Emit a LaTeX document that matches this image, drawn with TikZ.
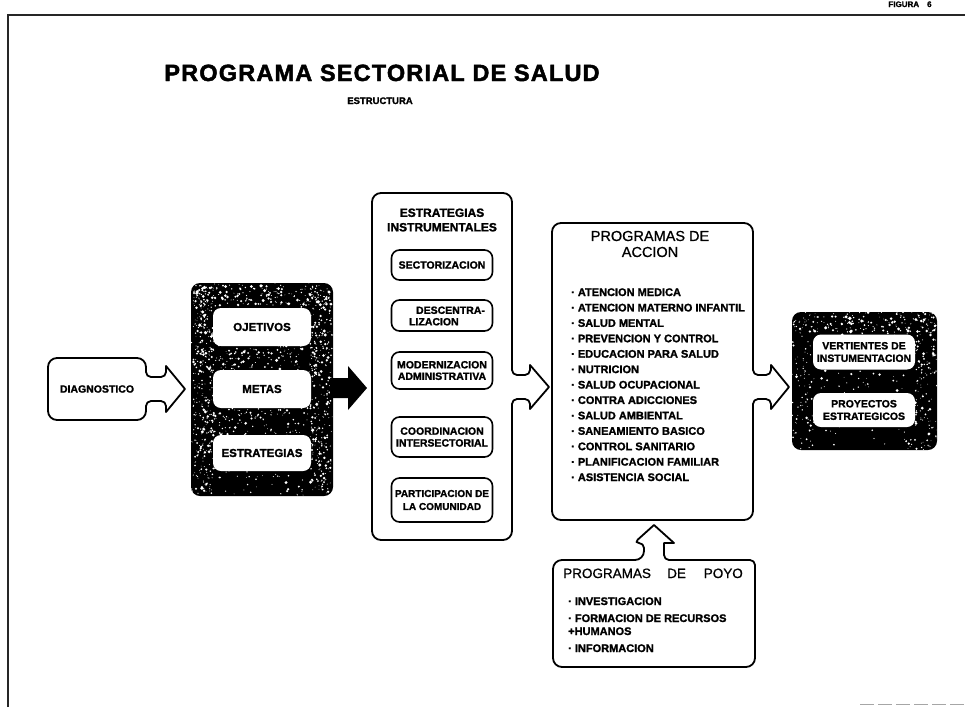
\documentclass[tikz,border=0pt]{standalone}
\usepackage{fontspec}
\setmainfont{Liberation Sans}[BoldFeatures={FakeBold=1.5}]
\newfontfamily\titlefont[LetterSpace=5.0,BoldFeatures={FakeBold=2}]{Liberation Sans}
\newfontfamily\headfont[FakeBold=0.8]{Liberation Sans}
\begin{document}
\begin{tikzpicture}[x=1pt,y=-1pt,
  outl/.style={draw=black, line width=1.8pt, line join=round},
  inbox/.style={draw=black, line width=1.6pt, rounded corners=8pt, fill=white,
    align=center, inner sep=0pt},
  wbox/.style={fill=white, rounded corners=8pt, align=center, inner sep=0pt},
  lbl/.style={font=\fontsize{11}{11.8}\selectfont\bfseries, align=center, inner sep=0pt},
  item/.style={font=\fontsize{11}{12}\selectfont\bfseries, inner sep=0pt, anchor=base west},
  head/.style={font=\fontsize{13.5}{16}\selectfont\headfont, align=center, inner sep=0pt}
]
\useasboundingbox (0,0) rectangle (965,707);

% sheet frame and sheet number
\draw[line width=2pt, black!85] (8,707) -- (8,15) -- (965,15);
\draw[line width=1pt, black!35, dash pattern=on 14pt off 4pt] (860,704) -- (965,704);
\node[font=\fontsize{8}{9}\selectfont\bfseries, anchor=base, inner sep=0pt] (fig) at (910,7) {FIGURA\quad 6};

% title
\node[font=\fontsize{23.5}{26}\selectfont\titlefont\bfseries, anchor=base, inner sep=0pt] (title) at (382,81) {PROGRAMA SECTORIAL DE SALUD};
\node[font=\fontsize{9.5}{11}\selectfont\bfseries, anchor=base, inner sep=0pt] (sub) at (380,104) {ESTRUCTURA};

% white specks on a dark panel: x1 y1 x2 y2 count max-radius
\newcommand{\speckle}[6]{%
  \foreach \k in {1,...,#5}{%
    \pgfmathsetmacro{\sx}{#1+rnd*(#3-#1)}%
    \pgfmathsetmacro{\sy}{#2+rnd*(#4-#2)}%
    \pgfmathsetmacro{\sr}{0.35+#6*rnd*rnd}%
    \fill[white] (\sx,\sy) circle (\sr pt);
  }}
\pgfmathsetseed{4127}

% DIAGNOSTICO box with its arrow
\draw[outl] (48,389) [rounded corners=9pt] -- (48,358) -- (146,358)
  [rounded corners=5pt] -- (146,377) -- (166,377) [sharp corners] -- (166,366)
  -- (185,389) -- (166,412) [rounded corners=5pt] -- (166,401) -- (146,401)
  [rounded corners=9pt] -- (146,420) -- (48,420) -- cycle;
\node[lbl, font=\fontsize{10.5}{12}\selectfont\bfseries] (diag) at (97,389) {DIAGNOSTICO};

% dark panel: objectives, goals, strategies
\fill[black, rounded corners=9pt] (191,283) rectangle (333,496);
\begin{scope}
  \clip[rounded corners=9pt] (191,283) rectangle (333,496);
  \speckle{191}{283}{333}{496}{350}{1.4}
  \speckle{193}{285}{214}{494}{260}{1.6}
  \speckle{310}{285}{331}{494}{260}{1.6}
  \speckle{193}{285}{331}{306}{160}{1.5}
  \speckle{205}{345}{320}{372}{110}{1.4}
  \speckle{205}{409}{320}{436}{90}{1.4}
\end{scope}
\fill[black] (330,378) -- (348,378) -- (348,366) -- (367,388) -- (348,410) -- (348,398) -- (330,398) -- cycle;
\node[wbox, minimum width=98pt, minimum height=38pt] (obj) at (262,327) {};
\node[wbox, minimum width=98pt, minimum height=38pt] (met) at (262,389) {};
\node[wbox, minimum width=98pt, minimum height=36pt] (est) at (262,453) {};
\node[lbl, font=\fontsize{11.5}{13}\selectfont\bfseries] at (obj) {OJETIVOS};
\node[lbl, font=\fontsize{11.5}{13}\selectfont\bfseries] at (met) {METAS};
\node[lbl, font=\fontsize{11.5}{13}\selectfont\bfseries] at (est) {ESTRATEGIAS};

% instrumental strategies
\draw[outl] (372,360) [rounded corners=9pt] -- (372,193) -- (512,193)
  [rounded corners=5pt] -- (512,375) -- (530,375) [sharp corners] -- (530,365)
  -- (549,387) -- (530,409) [rounded corners=5pt] -- (530,399) -- (512,399)
  [rounded corners=9pt] -- (512,540) -- (372,540) -- cycle;
\node[lbl, font=\fontsize{12}{14.5}\selectfont\bfseries] (eihead) at (442,220) {ESTRATEGIAS\\INSTRUMENTALES};
\node[inbox, minimum width=101pt, minimum height=30pt] (sec) at (442,265) {};
\node[inbox, minimum width=101pt, minimum height=31pt] (des) at (442,315.5) {};
\node[inbox, minimum width=101pt, minimum height=37pt] (mod) at (442,370.5) {};
\node[inbox, minimum width=101pt, minimum height=40pt] (coo) at (442,437) {};
\node[inbox, minimum width=101pt, minimum height=44pt] (par) at (442,500) {};
\node[lbl, font=\fontsize{10.5}{11.5}\selectfont\bfseries] at (sec) {SECTORIZACION};
\node[lbl, font=\fontsize{10.5}{11.5}\selectfont\bfseries, align=left] at (447,316) {\hspace*{7pt}DESCENTRA-\\LIZACION};
\node[lbl, font=\fontsize{10.5}{11.5}\selectfont\bfseries] at (mod) {MODERNIZACION\\ADMINISTRATIVA};
\node[lbl, font=\fontsize{10.5}{11.8}\selectfont\bfseries] at (coo) {COORDINACION\\INTERSECTORIAL};
\node[lbl, font=\fontsize{10}{13}\selectfont\bfseries] at (par) {PARTICIPACION DE\\LA COMUNIDAD};

% action programmes
\draw[outl] (552,360) [rounded corners=9pt] -- (552,223) -- (753,223)
  [rounded corners=5pt] -- (753,375) -- (771,375) [sharp corners] -- (771,365)
  -- (789,387) -- (771,409) [rounded corners=5pt] -- (771,399) -- (753,399)
  [rounded corners=9pt] -- (753,520) -- (552,520) -- cycle;
\node[head, font=\fontsize{14.5}{16}\selectfont\headfont] (pahead) at (650,244) {PROGRAMAS DE\\ACCION};
\foreach \t [count=\i from 0] in {ATENCION MEDICA, ATENCION MATERNO INFANTIL,
  SALUD MENTAL, PREVENCION Y CONTROL, EDUCACION PARA SALUD, NUTRICION,
  SALUD OCUPACIONAL, CONTRA ADICCIONES, SALUD AMBIENTAL, SANEAMIENTO BASICO,
  CONTROL SANITARIO, PLANIFICACION FAMILIAR, ASISTENCIA SOCIAL}
  \node[item] (pa\i) at (571,{296+15.42*\i}) {\textperiodcentered\ \t};

% support programmes with upward arrow
\draw[outl] (553,620) [rounded corners=9pt] -- (553,560) -- (644,560)
  [rounded corners=5pt] -- (644,543) -- (634,543) [sharp corners] -- (654,525)
  -- (674,543) -- (664,543) [rounded corners=5pt] -- (664,560) -- (755,560)
  [rounded corners=9pt] -- (755,667) -- (553,667) -- cycle;
\node[head, anchor=base west] (ap1) at (563,578) {PROGRAMAS};
\node[head, anchor=base west] (ap2) at (667,578) {DE};
\node[head, anchor=base east] (ap3) at (743,578) {POYO};
\node[item] (ap4) at (568,605) {\textperiodcentered\ INVESTIGACION};
\node[item] (ap5) at (568,622) {\textperiodcentered\ FORMACION DE RECURSOS};
\node[item] (ap6) at (568,635) {+HUMANOS};
\node[item] (ap7) at (568,652) {\textperiodcentered\ INFORMACION};

% dark panel: instrumentation and strategic projects
\fill[black, rounded corners=9pt] (792,312) rectangle (937,450);
\begin{scope}
  \clip[rounded corners=9pt] (792,312) rectangle (937,450);
  \speckle{792}{312}{937}{450}{230}{1.4}
  \speckle{792}{312}{937}{333}{120}{1.6}
  \speckle{915}{312}{937}{450}{110}{1.5}
  \speckle{792}{312}{813}{450}{60}{1.2}
\end{scope}
\node[wbox, minimum width=102pt, minimum height=35pt] (ver) at (864,352) {};
\node[wbox, minimum width=102pt, minimum height=34pt] (pro) at (864,410) {};
\node[lbl, font=\fontsize{10.5}{12.5}\selectfont\bfseries] at (ver) {VERTIENTES DE\\INSTUMENTACION};
\node[lbl, font=\fontsize{10.5}{12.5}\selectfont\bfseries] at (pro) {PROYECTOS\\ESTRATEGICOS};
\end{tikzpicture}
\end{document}
